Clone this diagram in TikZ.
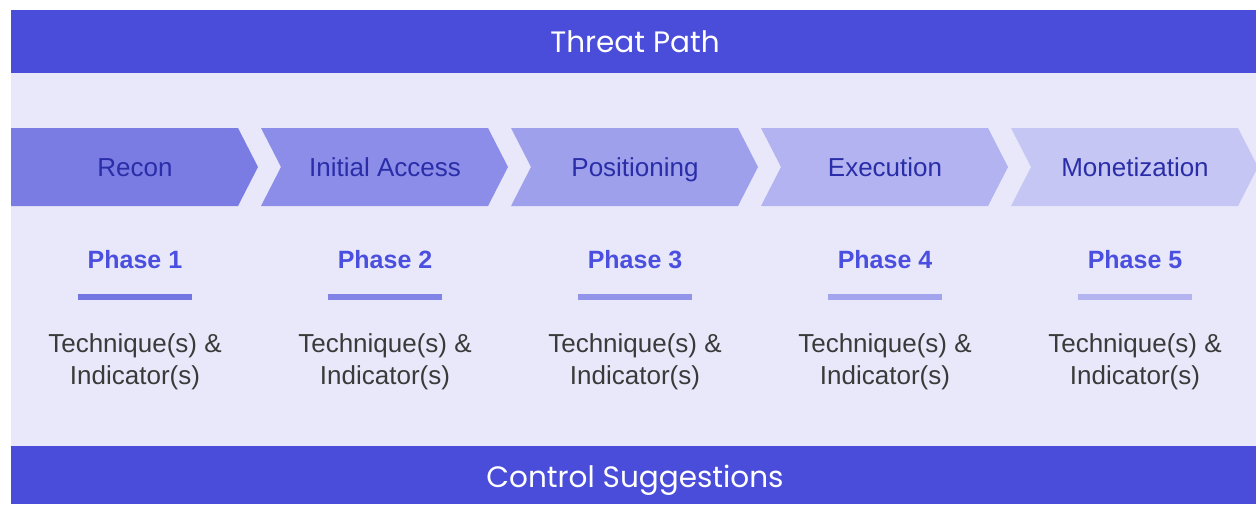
\documentclass[tikz,border=0pt]{standalone}
\usepackage{fontspec}
\setmainfont{Liberation Sans}
\newfontfamily\titlefont{Poppins}
\definecolor{barblue}{HTML}{4A4DDA}
\definecolor{panelbg}{HTML}{E8E8FA}
\definecolor{chevA}{HTML}{7A7CE3}
\definecolor{chevB}{HTML}{8C8DE8}
\definecolor{chevC}{HTML}{9FA0EC}
\definecolor{chevD}{HTML}{B2B3F0}
\definecolor{chevE}{HTML}{C6C6F4}
\definecolor{chevtext}{HTML}{2A2DA8}
\definecolor{phasetext}{HTML}{4A4FE0}
\definecolor{bodytext}{HTML}{3A3A3A}
\begin{document}
\begin{tikzpicture}[x=1pt,y=-1pt,
  headbar/.style={fill=barblue,draw=none},
  titletext/.style={text=white,font=\titlefont\fontsize{29.5}{32}\selectfont,inner sep=0pt,anchor=base},
  chevlabel/.style={text=chevtext,font=\fontsize{26}{30}\selectfont,inner sep=0pt,anchor=base},
  phaselabel/.style={text=phasetext,font=\bfseries\fontsize{25}{29}\selectfont,inner sep=0pt,anchor=base},
  bodylabel/.style={text=bodytext,font=\fontsize{26}{30}\selectfont,inner sep=0pt,anchor=base}]
\useasboundingbox (0,0) rectangle (1256,504);
\fill[white] (0,0) rectangle (1256,504);
% panel background and header / footer bars
\fill[panelbg] (11,73) rectangle (1256,446);
\fill[headbar] (11,10) rectangle (1256,73);
\fill[headbar] (11,446) rectangle (1256,504);
\node[titletext] (title) at (635,52) {Threat Path};
\node[titletext] (footer) at (635,487) {Control Suggestions};
% first chevron has a flat left edge
\fill[chevA] (11,128) -- (238,128) -- (258,167) -- (238,206) -- (11,206) -- cycle;
% remaining chevrons
\foreach \i/\c in {1/chevB,2/chevC,3/chevD,4/chevE}{
  \pgfmathsetmacro{\L}{11+250*\i}
  \fill[\c] (\L,128) -- ({\L+227},128) -- ({\L+247},167) -- ({\L+227},206) -- (\L,206) -- ({\L+20},167) -- cycle;
}
% stage names, phase numbers, underline bars and descriptions
\foreach \i/\name/\c in {0/Recon/chevA,1/Initial Access/chevB,2/Positioning/chevC,3/Execution/chevD,4/Monetization/chevE}{
  \pgfmathsetmacro{\X}{135+250*\i}
  \pgfmathtruncatemacro{\n}{\i+1}
  \node[chevlabel] (stage\n) at (\X,176) {\name};
  \node[phaselabel] (phase\n) at (\X,268) {Phase \n};
  \fill[\c!85!barblue] ({\X-57},294) rectangle ({\X+57},300);
  \node[bodylabel] (tech\n) at (\X,352) {Technique(s) \&};
  \node[bodylabel] (ind\n) at (\X,384) {Indicator(s)};
}
\end{tikzpicture}
\end{document}
